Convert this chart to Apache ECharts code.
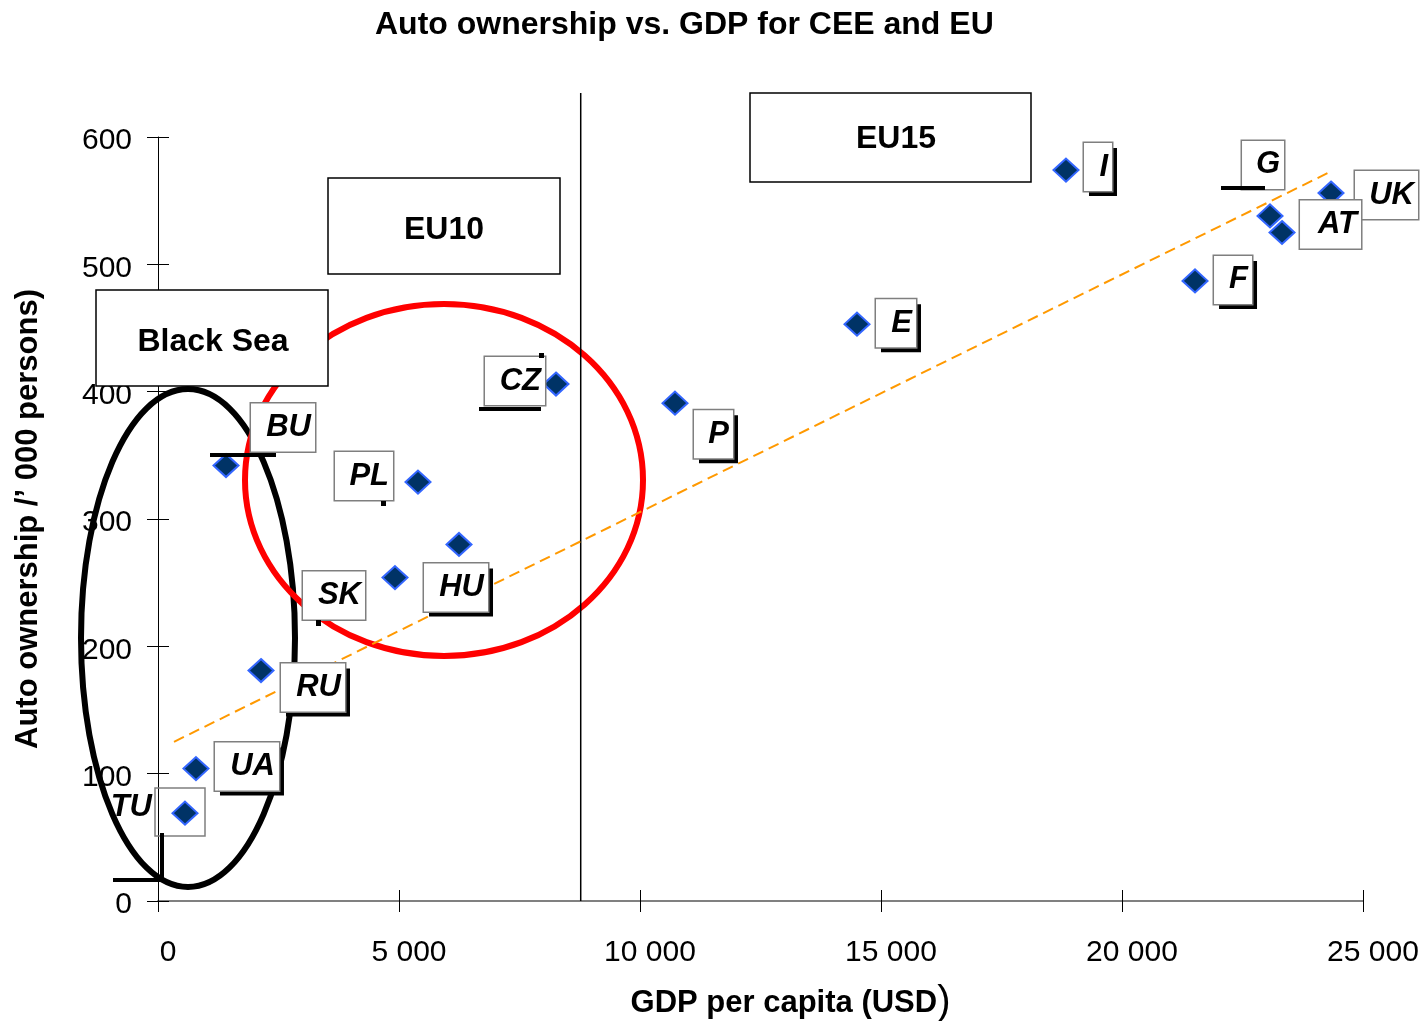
<!DOCTYPE html>
<html>
<head>
<meta charset="utf-8">
<script src="https://cdn.jsdelivr.net/npm/echarts@6/dist/echarts.min.js"></script>
<style>
html, body { margin: 0; padding: 0; background: #fff; }
#main { width: 1428px; height: 1021px; }
</style>
</head>
<body>
<div id="main"></div>
<script>
// data
const countries = ["TU", "UA", "RU", "BU", "SK", "PL", "HU", "CZ", "P", "E", "I", "F", "G", "UK", "AT"]
const gdp = [560, 788, 2137, 1411, 4917, 5394, 6245, 8257, 10726, 14502, 18838, 21515, 23071, 24336, 23320]
const cars = [69, 104, 181, 342, 254, 329, 280, 406, 391, 453, 574, 487, 538, 556, 525]
const trendGdp = [332, 24337]
const trendCars = [125, 573]
const dividerGdp = 8770

const font = "'Liberation Sans', Arial, sans-serif"

// label box placement: [right edge dx, center dy, box width, shadow]
const labelBox = {
  UA: [83, -2, 64, true],
  RU: [84, 17, 64, true],
  BU: [89, -38, 64, false],
  SK: [-30, 18, 62, false],
  PL: [-25, -6, 58, false],
  HU: [29, 43, 64, true],
  CZ: [-11, -3, 60, false],
  P: [58, 31, 39, true],
  E: [59, -1, 40, true],
  I: [46, -3, 28, true],
  F: [57, -1, 38, true],
  G: [14, -51, 42, false],
  UK: [87, 2, 63, false],
  AT: [79, -8, 61, false]
}

function baseLabel() {
  return {
    show: true,
    position: "inside",
    align: "right",
    verticalAlign: "middle",
    formatter: "{b}",
    fontFamily: font,
    fontSize: 31,
    fontWeight: "bold",
    fontStyle: "italic",
    color: "#000",
    opacity: 1,
    lineHeight: 34
  }
}

function makeLabel(c) {
  const base = baseLabel()
  if (c === "TU") {
    return Object.assign(base, { offset: [-33, -6] })
  }
  const b = labelBox[c]
  return Object.assign(base, {
    offset: [b[0], b[1]],
    width: b[2] - 9,
    padding: [10, 4, 4, 5],
    backgroundColor: "#fff",
    borderColor: "#7f7f7f",
    borderWidth: 1.5
  })
}

function makeShadow(c) {
  const b = labelBox[c]
  if (!b || !b[3]) return { show: false }
  return Object.assign(baseLabel(), {
    offset: [b[0] + 5, b[1] + 5],
    width: b[2] - 9,
    padding: [10, 4, 4, 5],
    color: "transparent",
    backgroundColor: "#000"
  })
}

const chart = echarts.init(document.getElementById("main"))

const option = {
  animation: false,
  backgroundColor: "#fff",
  title: {
    text: "Auto ownership vs. GDP for CEE and EU",
    left: 370,
    top: 4,
    textStyle: { fontFamily: font, fontSize: 32, fontWeight: "bold", color: "#000" }
  },
  grid: { left: 158, right: 65, top: 137, bottom: 120, outerBoundsMode: "none", containLabel: false },
  xAxis: [
    {
      type: "value",
      min: 0,
      max: 25000,
      interval: 5000,
      axisLine: { show: true, onZero: false, lineStyle: { color: "#808080", width: 2 } },
      axisTick: { show: true, length: 11, lineStyle: { color: "#000" } },
      axisLabel: {
        fontFamily: font,
        fontSize: 30,
        color: "#000",
        margin: 37,
        padding: [0, 0, 0, 20],
        formatter: v => (v === 0 ? "0" : v / 1000 + " 000")
      },
      splitLine: { show: false },
      name: "{a|GDP per capita (USD}{b|)}",
      nameLocation: "middle",
      nameGap: 82,
      nameTextStyle: {
        padding: [0, 0, 0, 60],
        rich: {
          a: { fontFamily: font, fontSize: 31, fontWeight: "bold", color: "#000" },
          b: { fontFamily: font, fontSize: 40, color: "#000" }
        }
      }
    },
    {
      type: "value",
      min: 0,
      max: 25000,
      interval: 5000,
      position: "bottom",
      axisLine: { show: false },
      axisTick: { show: true, inside: true, length: 11, lineStyle: { color: "#000" } },
      axisLabel: { show: false },
      splitLine: { show: false }
    }
  ],
  yAxis: [
    {
      type: "value",
      min: 0,
      max: 600,
      interval: 100,
      axisLine: { show: true, lineStyle: { color: "#000", width: 1 } },
      axisTick: { show: true, length: 11, lineStyle: { color: "#000" } },
      axisLabel: { fontFamily: font, fontSize: 30, color: "#000", margin: 26, lineHeight: 38, verticalAlign: "top", padding: [-15, 0, 0, 0] },
      splitLine: { show: false },
      name: "Auto ownership /\u2019 000 persons)",
      nameLocation: "middle",
      nameGap: 114,
      nameTextStyle: { fontFamily: font, fontSize: 31, fontWeight: "bold", color: "#000" }
    },
    {
      type: "value",
      min: 0,
      max: 600,
      interval: 100,
      position: "left",
      offset: 0,
      axisLine: { show: false },
      axisTick: { show: true, inside: true, length: 11, lineStyle: { color: "#000" } },
      axisLabel: { show: false },
      splitLine: { show: false }
    }
  ],
  series: [
    {
      type: "line",
      data: trendGdp.map((x, i) => [x, trendCars[i]]),
      symbol: "none",
      lineStyle: { color: "#ff9900", width: 2, type: [11, 6] },
      z: 2
    },
    {
      // black drop shadows behind label boxes
      type: "scatter",
      symbolSize: 1,
      itemStyle: { color: "transparent", opacity: 1 },
      silent: true,
      data: countries.map((c, i) => ({ name: c, value: [gdp[i], cars[i]], label: makeShadow(c) })),
      z: 3
    },
    {
      type: "scatter",
      symbol: "diamond",
      symbolSize: [25, 23],
      itemStyle: { color: "#003366", borderColor: "#3366ff", borderWidth: 2, opacity: 1 },
      data: countries.map((c, i) => ({ name: c, value: [gdp[i], cars[i]], label: makeLabel(c) })),
      z: 4
    }
  ]
}

option && chart.setOption(option)

const divX = chart.convertToPixel({ xAxisIndex: 0 }, dividerGdp)
const y0 = chart.convertToPixel({ yAxisIndex: 0 }, 0)

function box(x, y, w, h, text, tx, ty) {
  return [
    { type: "rect", z: 10, shape: { x: x, y: y, width: w, height: h }, style: { fill: "#fff", stroke: "#000", lineWidth: 1.5 } },
    {
      type: "text", z: 11, x: tx, y: ty,
      style: { text: text, fill: "#000", font: "bold 32px " + font, textAlign: "center", textVerticalAlign: "middle" }
    }
  ]
}
function bar(x, y, w, h) {
  return { type: "rect", z: 10, shape: { x: x, y: y, width: w, height: h }, style: { fill: "#000" } }
}

chart.setOption({
  graphic: [
    { type: "ellipse", z: 1, shape: { cx: 188, cy: 638, rx: 107, ry: 249 }, style: { fill: null, stroke: "#000", lineWidth: 6 } },
    { type: "ellipse", z: 1, shape: { cx: 444, cy: 480, rx: 199, ry: 176 }, style: { fill: null, stroke: "#ff0000", lineWidth: 6 } },
    { type: "line", z: 1, shape: { x1: divX, y1: 93, x2: divX, y2: y0 }, style: { stroke: "#000", lineWidth: 1.5 } },
    ...box(96, 290, 232, 96, "Black Sea", 213, 342),
    ...box(328, 178, 232, 96, "EU10", 444, 230),
    ...box(750, 93, 281, 89, "EU15", 896, 139),
    { type: "rect", z: 1, shape: { x: 155, y: 788, width: 50, height: 48 }, style: { fill: null, stroke: "#7f7f7f", lineWidth: 1.5 } },
    bar(160, 833, 4, 48),
    bar(113, 878, 51, 4),
    bar(210, 453, 66, 4),
    bar(1221, 186, 44, 4),
    bar(479, 407, 62, 4),
    bar(539, 353, 5, 5),
    bar(381, 501, 5, 5),
    bar(316, 620, 5, 6)
  ]
})
</script>
</body>
</html>
